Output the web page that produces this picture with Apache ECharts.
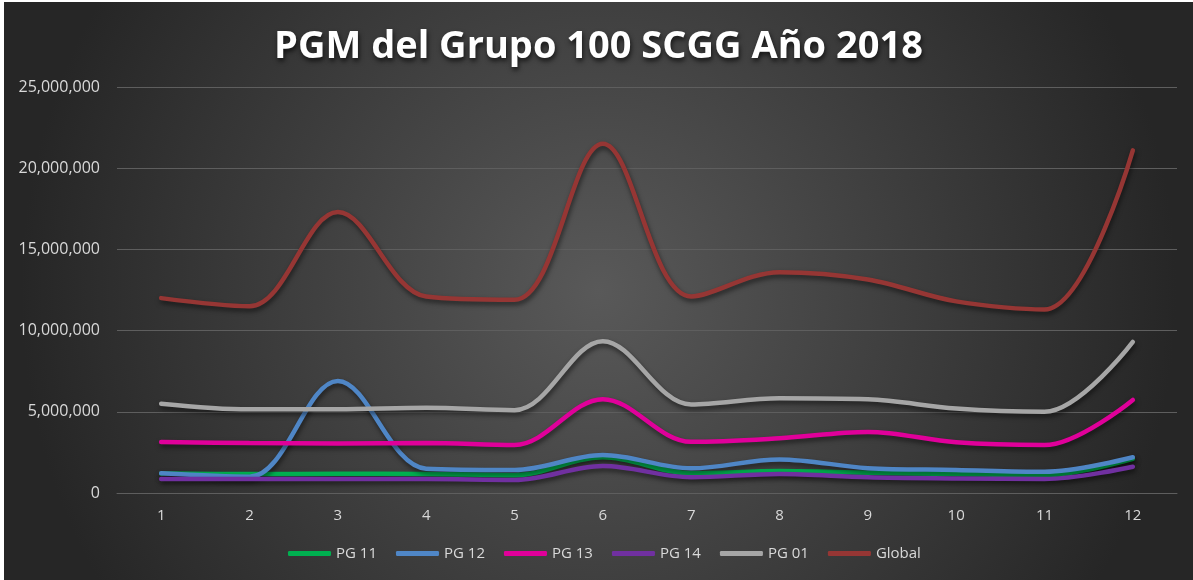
<!DOCTYPE html>
<html>
<head>
<meta charset="utf-8">
<script src="https://cdn.jsdelivr.net/npm/echarts@6/dist/echarts.min.js"></script>
<style>
  html, body { margin: 0; padding: 0; background: #ffffff; }
  #main { position: absolute; left: 4px; top: 2px; width: 1189px; height: 578px; }
</style>
</head>
<body>
<div id="main"></div>
<script>
// meses 1..12
var meses = ['1', '2', '3', '4', '5', '6', '7', '8', '9', '10', '11', '12'];

// valores
var pg11 = [1200000, 1170000, 1180000, 1170000, 1100000, 2200000, 1210000, 1350000, 1250000, 1170000, 1100000, 2100000];
var pg12 = [1210000, 1000000, 6900000, 1500000, 1420000, 2340000, 1520000, 2070000, 1530000, 1420000, 1310000, 2200000];
var pg13 = [3140000, 3080000, 3050000, 3080000, 2960000, 5780000, 3150000, 3370000, 3760000, 3120000, 2950000, 5730000];
var pg14 = [860000, 860000, 860000, 860000, 800000, 1660000, 970000, 1170000, 970000, 900000, 860000, 1620000];
var pg01 = [5500000, 5150000, 5150000, 5250000, 5100000, 9350000, 5450000, 5830000, 5770000, 5200000, 5000000, 9300000];
var global = [12000000, 11500000, 17300000, 12100000, 11900000, 21500000, 12100000, 13600000, 13150000, 11800000, 11300000, 21100000];

var nombres = ['PG 11', 'PG 12', 'PG 13', 'PG 14', 'PG 01', 'Global'];
var colores = ['#00B050', '#4F86C6', '#E0009A', '#7030A0', '#A6A6A6', '#963634'];
var datos = [pg11, pg12, pg13, pg14, pg01, global];

var myChart = echarts.init(document.getElementById('main'));

var series = [];
nombres.forEach(function (nombre, idx) {
    series.push({
        name: nombre,
        type: 'line',
        smooth: 0.35,
        showSymbol: false,
        symbol: 'none',
        data: datos[idx],
        lineStyle: {
            width: 4.5,
            color: colores[idx],
            cap: 'round',
            shadowColor: 'rgba(0,0,0,0.55)',
            shadowBlur: 5,
            shadowOffsetX: 1,
            shadowOffsetY: 3
        },
        itemStyle: { color: colores[idx] }
    });
});

var option = {
    animation: false,
    backgroundColor: {
        type: 'radial',
        x: 0.5, y: 0.5, r: 1.0,
        colorStops: [
            { offset: 0, color: '#595959' },
            { offset: 1, color: '#262626' }
        ]
    },
    title: {
        text: 'PGM del Grupo 100 SCGG Año 2018',
        left: 'center',
        top: 21,
        textStyle: {
            fontFamily: 'Open Sans',
            fontWeight: 'bold',
            fontSize: 38,
            color: '#ffffff',
            textShadowColor: 'rgba(0,0,0,0.7)',
            textShadowBlur: 5,
            textShadowOffsetX: 1,
            textShadowOffsetY: 3
        }
    },
    legend: {
        bottom: 14,
        left: 279,
        icon: 'roundRect',
        itemWidth: 43,
        itemHeight: 5,
        itemGap: 19,
        textStyle: {
            fontFamily: 'Open Sans',
            fontSize: 15,
            color: '#D9D9D9',
            width: 43
        },
        data: nombres
    },
    grid: {
        left: 113,
        right: 16,
        top: 85,
        bottom: 87,
        containLabel: false
    },
    xAxis: {
        type: 'category',
        data: meses,
        boundaryGap: true,
        axisLine: { show: true, lineStyle: { color: '#5E5E5E', width: 1 } },
        axisTick: { show: false },
        axisLabel: {
            fontFamily: 'Open Sans',
            fontSize: 15,
            color: '#D9D9D9',
            margin: 15
        }
    },
    yAxis: {
        type: 'value',
        min: 0,
        max: 25000000,
        interval: 5000000,
        axisLine: { show: false },
        axisTick: { show: false },
        splitLine: { lineStyle: { color: '#5E5E5E', width: 1 } },
        axisLabel: {
            fontFamily: 'Open Sans',
            fontSize: 16,
            color: '#D9D9D9',
            margin: 17,
            formatter: function (v) {
                return v.toString().replace(/\B(?=(\d{3})+(?!\d))/g, ',');
            }
        }
    },
    series: series
};

myChart.setOption(option);
window.onresize = myChart.resize;
</script>
</body>
</html>
